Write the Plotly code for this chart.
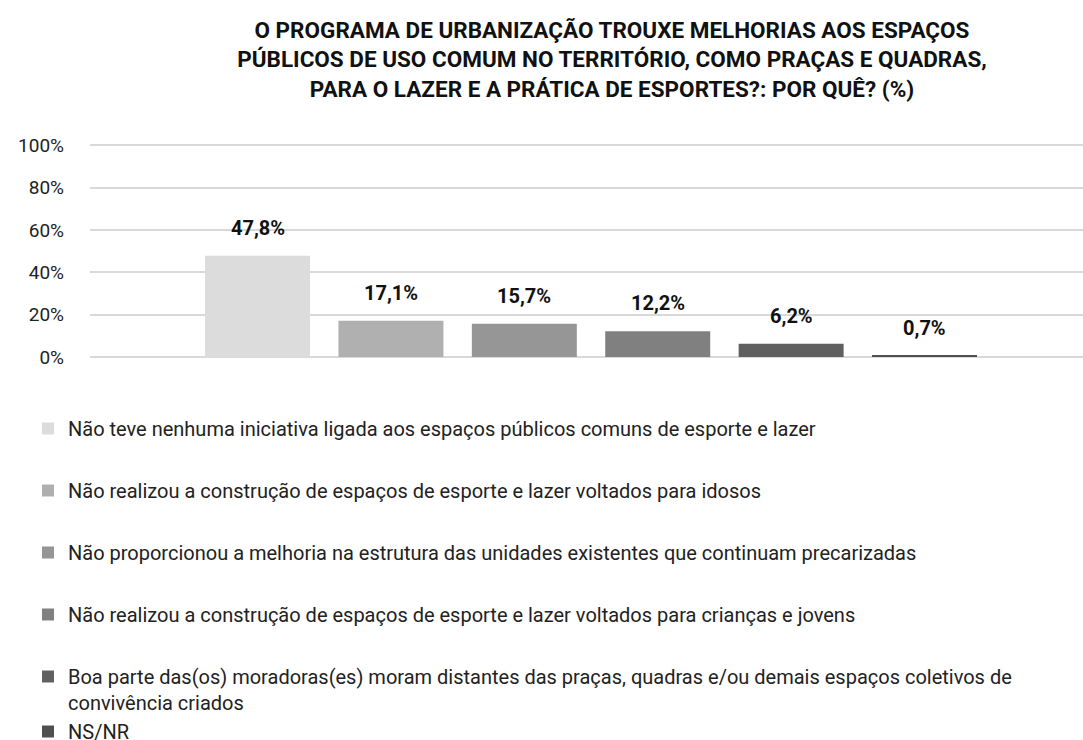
import plotly.graph_objects as go

# Survey answers (share of respondents, %)
categories = [
    "Não teve nenhuma iniciativa ligada aos espaços públicos comuns de esporte e lazer",
    "Não realizou a construção de espaços de esporte e lazer voltados para idosos",
    "Não proporcionou a melhoria na estrutura das unidades existentes que continuam precarizadas",
    "Não realizou a construção de espaços de esporte e lazer voltados para crianças e jovens",
    "Boa parte das(os) moradoras(es) moram distantes das praças, quadras e/ou demais espaços coletivos de<br>convivência criados",
    "NS/NR",
]
values = [47.8, 17.1, 15.7, 12.2, 6.2, 0.7]
legend_groups = ["g1", "g2", "g3", "g4", "g5", "g5"]
colors = ["#dcdcdc", "#b0b0b0", "#969696", "#808080", "#606060", "#505050"]
y_ticks = [0, 20, 40, 60, 80, 100]
y_tick_labels = ["0%", "20%", "40%", "60%", "80%", "100%"]

FONT = "Roboto, Liberation Sans, sans-serif"

fig = go.Figure()
for i, (name, val) in enumerate(zip(categories, values)):
    fig.add_trace(go.Bar(
        x=[i], y=[val], name=name,
        marker=dict(color=colors[i], line=dict(width=0)),
        width=0.787,
        legendgroup=legend_groups[i],
        hoverinfo="skip",
    ))
    fig.add_annotation(
        x=i, y=val, text=f"<b>{val:.1f}%</b>".replace(".", ","),
        showarrow=False, yanchor="bottom", yshift=14,
        font=dict(family=FONT, size=20, color="#111111"),
    )

fig.update_layout(
    width=1083, height=740,
    paper_bgcolor="white", plot_bgcolor="white",
    margin=dict(l=90, r=0, t=144, b=383, autoexpand=False),
    barmode="overlay",
    font=dict(family=FONT, size=18, color="#222222"),
    title=dict(
        text="<b>O PROGRAMA DE URBANIZAÇÃO TROUXE MELHORIAS AOS ESPAÇOS<br>"
             "PÚBLICOS DE USO COMUM NO TERRITÓRIO, COMO PRAÇAS E QUADRAS,<br>"
             "PARA O LAZER E A PRÁTICA DE ESPORTES?: POR QUÊ? (%)</b>",
        x=612 / 1083, xanchor="center", xref="container",
        y=1 - 38 / 740, yanchor="top", yref="container",
        font=dict(family=FONT, size=22.5, color="#111111"),
    ),
    xaxis=dict(range=[-1.256, 6.188], showticklabels=False, showgrid=False,
               zeroline=False, ticks=""),
    yaxis=dict(range=[0, 100.6], tickvals=y_ticks, ticktext=y_tick_labels,
               showgrid=True, gridcolor="#d9d9d9", gridwidth=1.5,
               zeroline=True, zerolinecolor="#d9d9d9", zerolinewidth=1.5,
               ticks="", ticklabelstandoff=25,
               tickfont=dict(family=FONT, size=19, color="#222222")),
    showlegend=True,
    legend=dict(
        orientation="v", xref="container", yref="container",
        x=28 / 1083, xanchor="left", y=1 - 409 / 740, yanchor="top",
        tracegroupgap=33, valign="top",
        font=dict(family=FONT, size=20, color="#222222"),
        itemwidth=30, bgcolor="rgba(0,0,0,0)",
    ),
)

fig.write_html("out.html")
